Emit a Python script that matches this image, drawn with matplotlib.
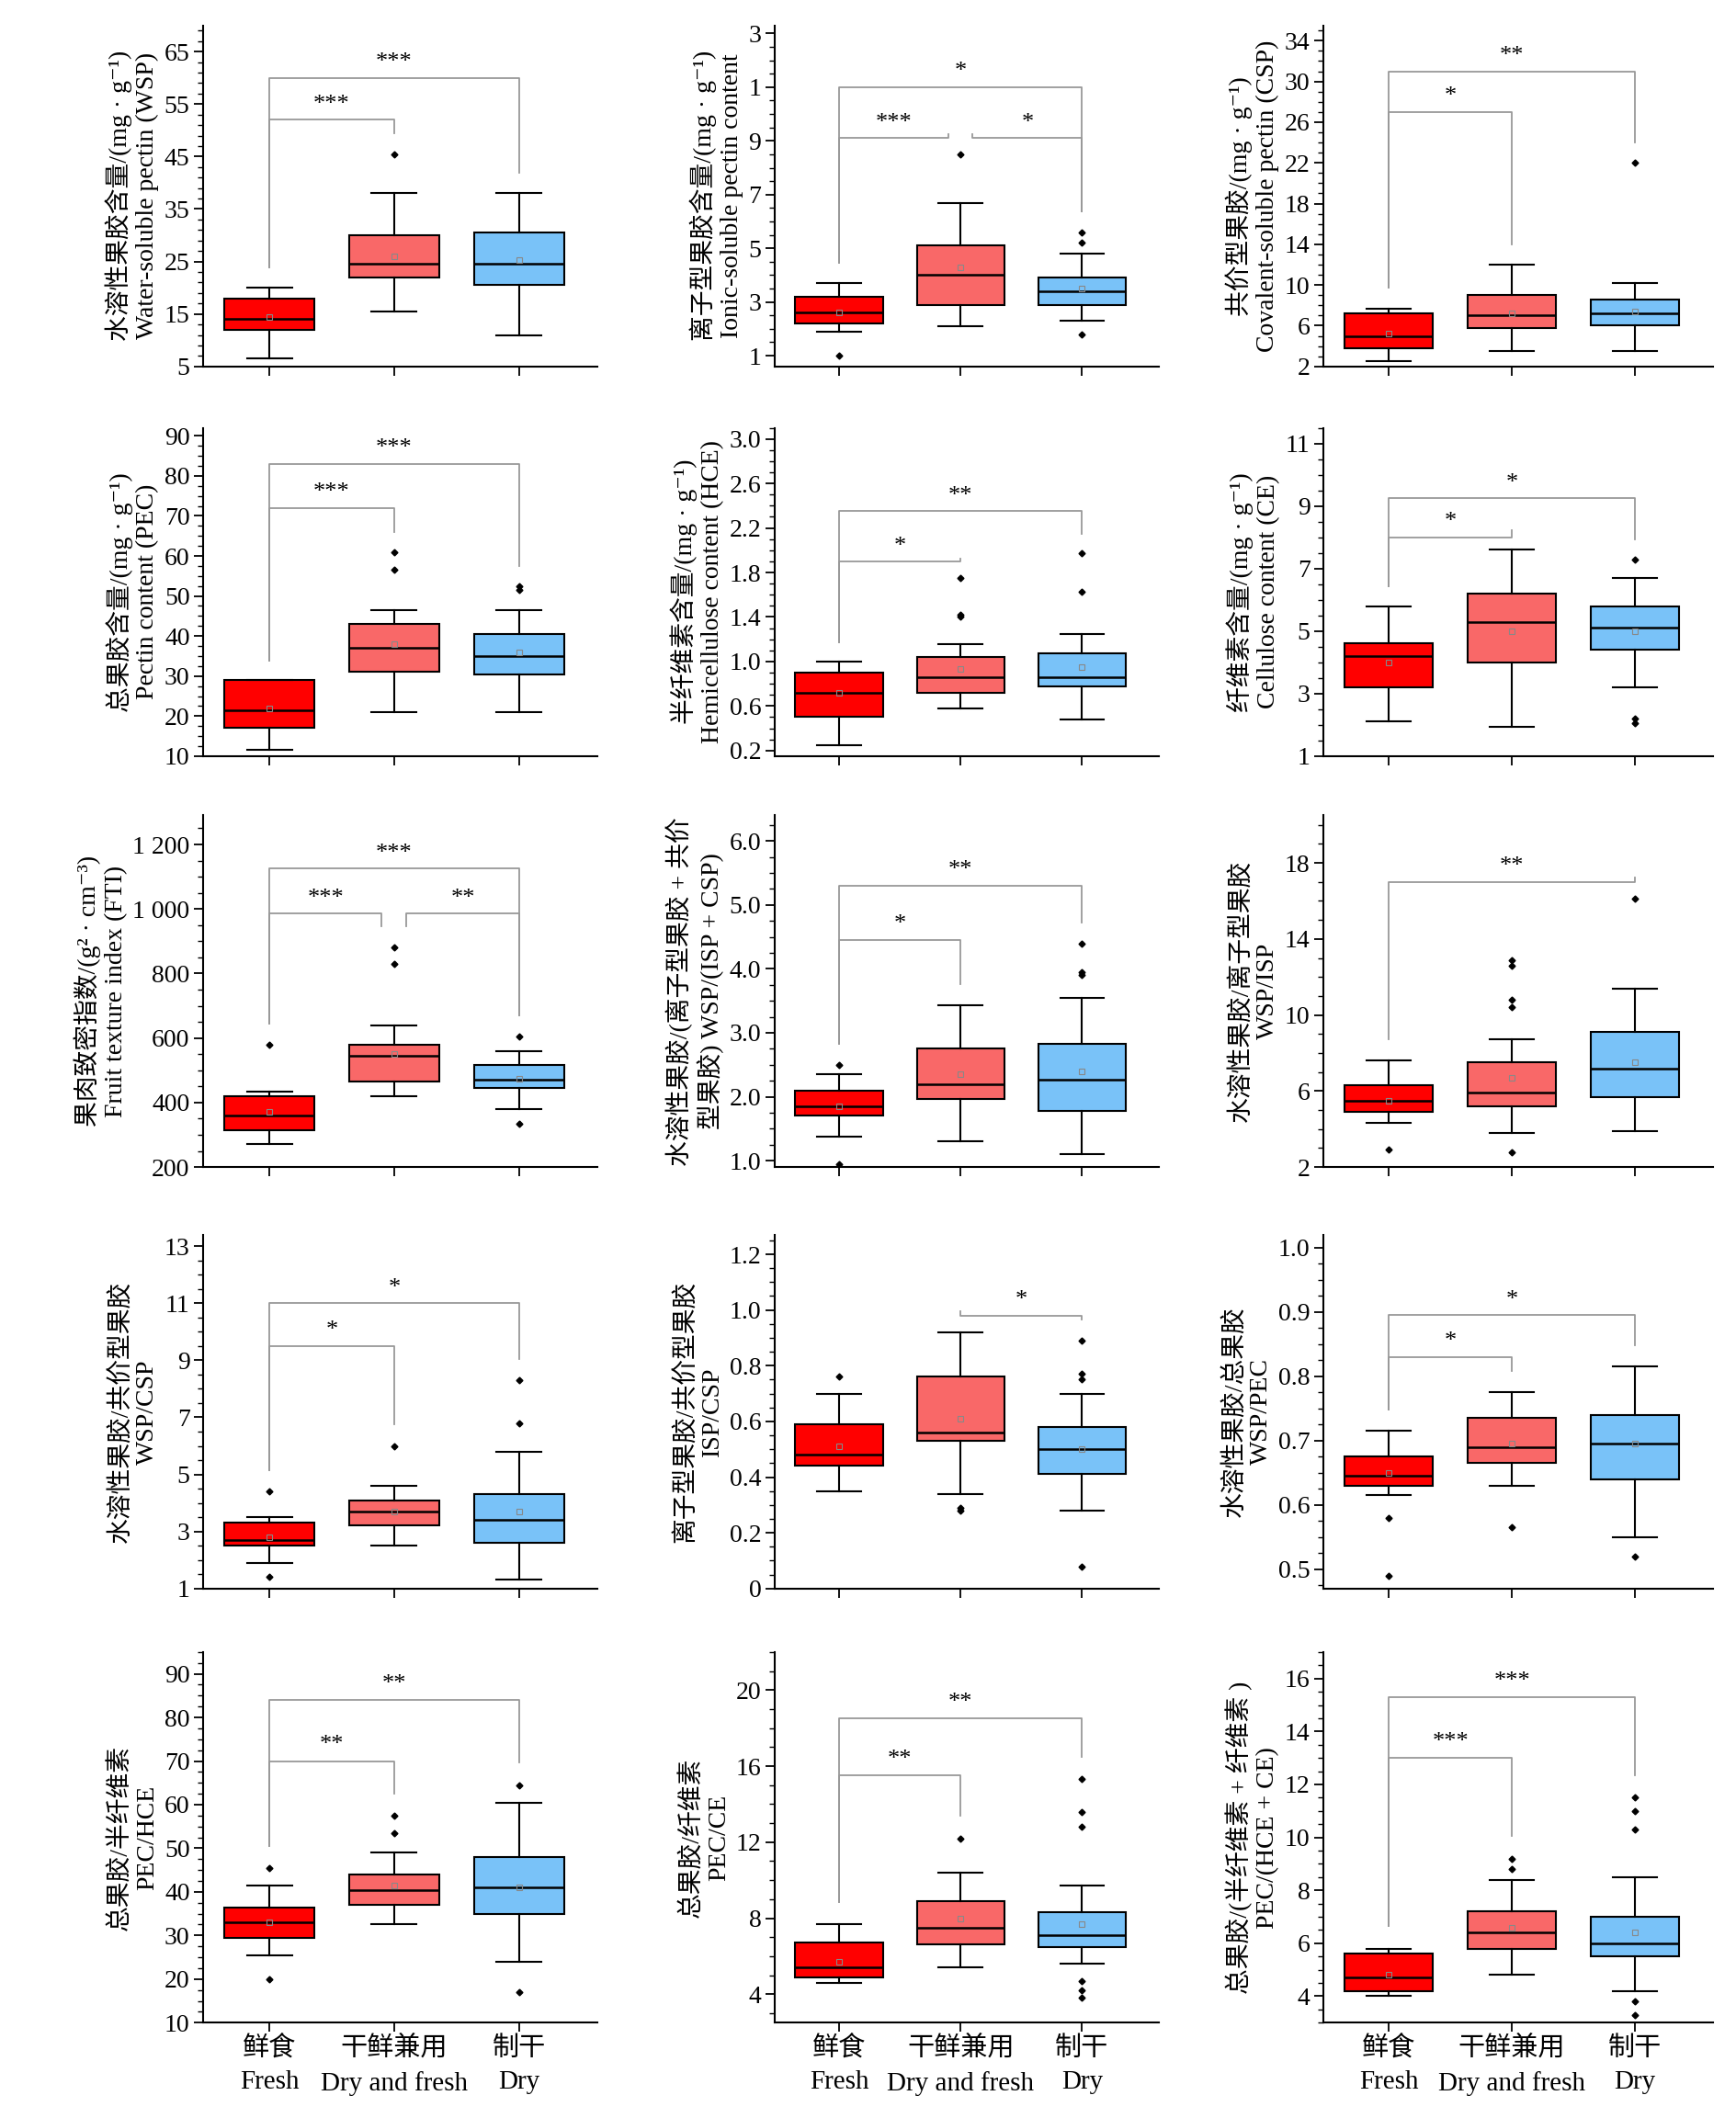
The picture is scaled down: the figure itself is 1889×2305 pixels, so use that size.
import matplotlib
matplotlib.use('Agg')
import matplotlib.pyplot as plt
from matplotlib.ticker import AutoMinorLocator

FONT = ['Liberation Serif', 'Noto Sans CJK SC', 'DejaVu Sans']
plt.rcParams['font.family'] = FONT

groups = ['鲜食\nFresh', '干鲜兼用\nDry and fresh', '制干\nDry']
colors = ['#FF0000', '#F96868', '#79C2F8']

# per panel: ylabel, yticks, ytick labels, ylim, box stats per group
# stats: (whislo, q1, med, q3, whishi, mean, fliers)
ylabels = [
    '水溶性果胶含量/(mg · g⁻¹)\nWater-soluble pectin (WSP)',
    '离子型果胶含量/(mg · g⁻¹)\nIonic-soluble pectin content',
    '共价型果胶/(mg · g⁻¹)\nCovalent-soluble pectin (CSP)',
    '总果胶含量/(mg · g⁻¹)\nPectin content (PEC)',
    '半纤维素含量/(mg · g⁻¹)\nHemicellulose content (HCE)',
    '纤维素含量/(mg · g⁻¹)\nCellulose content (CE)',
    '果肉致密指数/(g² · cm⁻³)\nFruit texture index (FTI)',
    '水溶性果胶/(离子型果胶 + 共价\n型果胶) WSP/(ISP + CSP)',
    '水溶性果胶/离子型果胶\nWSP/ISP',
    '水溶性果胶/共价型果胶\nWSP/CSP',
    '离子型果胶/共价型果胶\nISP/CSP',
    '水溶性果胶/总果胶\nWSP/PEC',
    '总果胶/半纤维素\nPEC/HCE',
    '总果胶/纤维素\nPEC/CE',
    '总果胶/(半纤维素 + 纤维素 )\nPEC/(HCE + CE)',
]
yticks = [
    [5, 15, 25, 35, 45, 55, 65],
    [1, 3, 5, 7, 9, 11, 13],
    [2, 6, 10, 14, 18, 22, 26, 30, 34],
    [10, 20, 30, 40, 50, 60, 70, 80, 90],
    [0.2, 0.6, 1.0, 1.4, 1.8, 2.2, 2.6, 3.0],
    [1, 3, 5, 7, 9, 11],
    [200, 400, 600, 800, 1000, 1200],
    [1, 2, 3, 4, 5, 6],
    [2, 6, 10, 14, 18],
    [1, 3, 5, 7, 9, 11, 13],
    [0, 0.2, 0.4, 0.6, 0.8, 1.0, 1.2],
    [0.5, 0.6, 0.7, 0.8, 0.9, 1.0],
    [10, 20, 30, 40, 50, 60, 70, 80, 90],
    [4, 8, 12, 16, 20],
    [4, 6, 8, 10, 12, 14, 16],
]
yticklabels = [
    None, ['1', '3', '5', '7', '9', '1', '3'], None, None,
    ['0.2', '0.6', '1.0', '1.4', '1.8', '2.2', '2.6', '3.0'], None,
    ['200', '400', '600', '800', '1 000', '1 200'],
    ['1.0', '2.0', '3.0', '4.0', '5.0', '6.0'], None, None,
    ['0', '0.2', '0.4', '0.6', '0.8', '1.0', '1.2'],
    ['0.5', '0.6', '0.7', '0.8', '0.9', '1.0'], None, None, None,
]
ylims = [(5, 70), (0.6, 13.3), (2, 35.5), (10, 92), (0.15, 3.1), (1, 11.5),
         (200, 1290), (0.9, 6.4), (2, 20.5), (1, 13.4), (0, 1.27),
         (0.47, 1.02), (10, 95), (2.5, 22), (3, 17)]
stats = [
    [(6.5, 12, 14, 18, 20, 14.5, []), (15.5, 22, 24.5, 30, 38, 26, [45.5]),
     (11, 20.5, 24.5, 30.5, 38, 25.3, [])],
    [(1.9, 2.2, 2.6, 3.2, 3.7, 2.6, [1.0]), (2.1, 2.9, 4.0, 5.1, 6.7, 4.3, [8.5]),
     (2.3, 2.9, 3.4, 3.9, 4.8, 3.5, [1.8, 5.2, 5.6])],
    [(2.5, 3.8, 5.0, 7.2, 7.7, 5.2, []), (3.5, 5.8, 7.0, 9.0, 12, 7.2, []),
     (3.5, 6.0, 7.2, 8.6, 10.2, 7.4, [22])],
    [(11.5, 17, 21.5, 29, 29, 22, []), (21, 31, 37, 43, 46.5, 38, [56.5, 61]),
     (21, 30.5, 35, 40.5, 46.5, 36, [51.5, 52.5])],
    [(0.25, 0.5, 0.72, 0.9, 1.0, 0.72, []),
     (0.58, 0.72, 0.86, 1.04, 1.16, 0.93, [1.4, 1.42, 1.75]),
     (0.48, 0.78, 0.86, 1.07, 1.25, 0.95, [1.63, 1.97])],
    [(2.1, 3.2, 4.2, 4.6, 5.8, 4.0, []), (1.95, 4.0, 5.3, 6.2, 7.6, 5.0, []),
     (3.2, 4.4, 5.1, 5.8, 6.7, 5.0, [2.05, 2.2, 7.3])],
    [(270, 315, 360, 420, 435, 370, [580]), (420, 465, 545, 580, 640, 550, [830, 880]),
     (380, 445, 470, 515, 560, 475, [335, 605])],
    [(1.38, 1.7, 1.85, 2.1, 2.35, 1.85, [0.95, 2.5]), (1.3, 1.97, 2.2, 2.75, 3.43, 2.35, []),
     (1.1, 1.78, 2.27, 2.82, 3.55, 2.4, [3.9, 3.95, 4.4])],
    [(4.3, 4.9, 5.5, 6.3, 7.6, 5.5, [2.9]),
     (3.8, 5.2, 5.9, 7.5, 8.7, 6.7, [2.8, 10.4, 10.8, 12.6, 12.9]),
     (3.9, 5.7, 7.2, 9.1, 11.4, 7.5, [16.1])],
    [(1.9, 2.5, 2.7, 3.3, 3.5, 2.8, [1.4, 4.4]), (2.5, 3.2, 3.7, 4.1, 4.6, 3.7, [6.0]),
     (1.3, 2.6, 3.4, 4.3, 5.8, 3.7, [6.8, 8.3])],
    [(0.35, 0.44, 0.48, 0.59, 0.70, 0.51, [0.76]),
     (0.34, 0.53, 0.56, 0.76, 0.92, 0.61, [0.28, 0.29]),
     (0.28, 0.41, 0.50, 0.58, 0.70, 0.50, [0.08, 0.75, 0.77, 0.89])],
    [(0.615, 0.63, 0.645, 0.675, 0.715, 0.65, [0.49, 0.58]),
     (0.63, 0.665, 0.69, 0.735, 0.775, 0.695, [0.565]),
     (0.55, 0.64, 0.695, 0.74, 0.815, 0.695, [0.52])],
    [(25.5, 29.5, 33, 36.5, 41.5, 33, [20, 45.5]),
     (32.5, 37, 40.5, 44, 49, 41.5, [53.5, 57.5]),
     (24, 35, 41, 48, 60.5, 41, [17, 64.5])],
    [(4.6, 4.9, 5.4, 6.7, 7.7, 5.7, []), (5.4, 6.6, 7.5, 8.9, 10.4, 8.0, [12.2]),
     (5.6, 6.5, 7.1, 8.3, 9.7, 7.7, [3.8, 4.2, 4.7, 12.8, 13.6, 15.3])],
    [(4.0, 4.2, 4.7, 5.6, 5.8, 4.8, []), (4.8, 5.8, 6.4, 7.2, 8.4, 6.6, [8.8, 9.2]),
     (4.2, 5.5, 6.0, 7.0, 8.5, 6.4, [3.3, 3.8, 10.3, 11.0, 11.5])],
]
# significance brackets: (group a, group b, label, y)
sigs = [
    [(0, 1, '***', 52), (0, 2, '***', 60)],
    [(0, 1, '***', 9.1), (1, 2, '*', 9.1), (0, 2, '*', 11.0)],
    [(0, 1, '*', 27), (0, 2, '**', 31)],
    [(0, 1, '***', 72), (0, 2, '***', 83)],
    [(0, 1, '*', 1.9), (0, 2, '**', 2.35)],
    [(0, 1, '*', 8.0), (0, 2, '*', 9.25)],
    [(0, 1, '***', 985), (1, 2, '**', 985), (0, 2, '***', 1125)],
    [(0, 1, '*', 4.45), (0, 2, '**', 5.3)],
    [(0, 2, '**', 17.0)],
    [(0, 1, '*', 9.5), (0, 2, '*', 11.0)],
    [(1, 2, '*', 0.98)],
    [(0, 1, '*', 0.83), (0, 2, '*', 0.895)],
    [(0, 1, '**', 70), (0, 2, '**', 84)],
    [(0, 1, '**', 15.5), (0, 2, '**', 18.5)],
    [(0, 1, '***', 13.0), (0, 2, '***', 15.3)],
]

fig = plt.figure(figsize=(18.9, 23.05), dpi=100)
lefts = [0.117, 0.446, 0.762]
widths = [0.227, 0.221, 0.224]
rows = [(0.827, 0.988), (0.643, 0.798), (0.449, 0.615), (0.250, 0.417), (0.045, 0.220)]

for k in range(15):
    r, c = divmod(k, 3)
    b, t = rows[r]
    ax = fig.add_axes([lefts[c], b, widths[c], t - b])
    bx = []
    for lo, q1, med, q3, hi, mean, fl in stats[k]:
        bx.append(dict(whislo=lo, q1=q1, med=med, q3=q3, whishi=hi, mean=mean, fliers=fl))
    res = ax.bxp(bx, positions=[1, 2, 3], widths=0.72, patch_artist=True, showmeans=True,
                 boxprops=dict(linewidth=1.5, edgecolor='black'),
                 medianprops=dict(color='black', linewidth=1.8),
                 whiskerprops=dict(linewidth=1.5), capprops=dict(linewidth=1.5),
                 capwidths=0.36,
                 meanprops=dict(marker='s', markersize=4, markerfacecolor='none',
                                markeredgecolor='#888888', markeredgewidth=0.8),
                 flierprops=dict(marker='D', markersize=3.5, markerfacecolor='black',
                                 markeredgecolor='black'))
    for patch, col in zip(res['boxes'], colors):
        patch.set_facecolor(col)

    lo_y, hi_y = ylims[k]
    span = hi_y - lo_y
    tops = [max([s[4]] + s[6]) for s in stats[k]]
    for a, bgrp, lab, y in sigs[k]:
        ya = tops[a] + 0.06 * span
        yb = tops[bgrp] + 0.06 * span
        xa, xb = a + 1.0, bgrp + 1.0
        # keep adjacent brackets at the same height apart
        for a2, b2, _, y2 in sigs[k]:
            if y2 == y and (a2, b2) != (a, bgrp):
                if b2 == a:
                    xa += 0.1
                if a2 == bgrp:
                    xb -= 0.1
        ax.plot([xa, xa, xb, xb], [ya, y, y, yb], color='#999999', lw=1.3)
        ax.text((xa + xb) / 2, y + 0.015 * span, lab, ha='center', va='bottom',
                fontsize=19, family=FONT)

    ax.set_xlim(0.47, 3.63)
    ax.set_ylim(lo_y, hi_y)
    ax.set_yticks(yticks[k])
    if yticklabels[k] is not None:
        ax.set_yticklabels(yticklabels[k])
    ax.yaxis.set_minor_locator(AutoMinorLocator(5 if k == 0 else 4))
    ax.set_xticks([1, 2, 3])
    if r == 4:
        ax.set_xticklabels(groups, fontsize=21, linespacing=1.5)
    else:
        ax.set_xticklabels([])
    ax.tick_params(axis='y', labelsize=20, length=7, width=1.3, direction='out')
    ax.tick_params(axis='y', which='minor', length=4, width=1.0)
    ax.tick_params(axis='x', length=7, width=1.3)
    for s in ['top', 'right']:
        ax.spines[s].set_visible(False)
    for s in ['left', 'bottom']:
        ax.spines[s].set_linewidth(1.5)
    ax.set_ylabel(ylabels[k], fontsize=20, linespacing=1.2)

fig.savefig('out.png', dpi=100)
